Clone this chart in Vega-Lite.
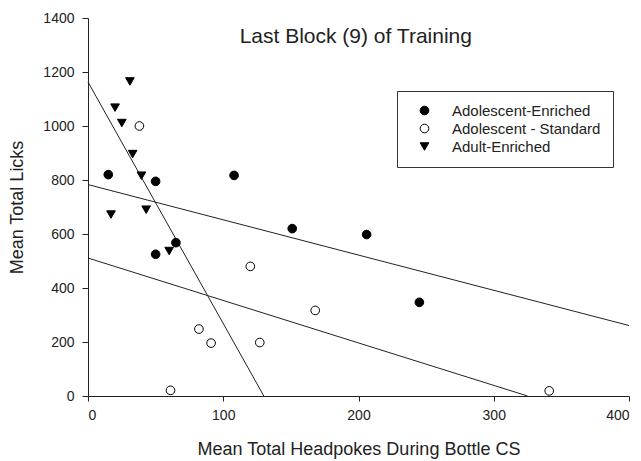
{
  "$schema": "https://vega.github.io/schema/vega-lite/v6.json",
  "width": 541,
  "height": 378,
  "autosize": {"type": "none"},
  "padding": {"left": 88, "top": 18, "right": 12, "bottom": 65},
  "background": "white",
  "config": {
    "view": {"stroke": null},
    "font": "Liberation Sans",
    "axis": {
      "grid": false,
      "domainColor": "#222",
      "tickColor": "#222",
      "labelFont": "Liberation Sans",
      "labelFontSize": 14,
      "labelColor": "#222",
      "titleFont": "Liberation Sans",
      "titleFontSize": 18,
      "titleFontWeight": "normal",
      "titleColor": "#222"
    },
    "legend": {
      "labelFont": "Liberation Sans",
      "labelFontSize": 15,
      "labelColor": "#222"
    }
  },
  "datasets": {
    "pts": [
      {"group": "Adolescent-Enriched", "x": 15, "y": 820},
      {"group": "Adolescent-Enriched", "x": 50, "y": 795},
      {"group": "Adolescent-Enriched", "x": 108, "y": 817},
      {"group": "Adolescent-Enriched", "x": 50, "y": 525},
      {"group": "Adolescent-Enriched", "x": 65, "y": 568},
      {"group": "Adolescent-Enriched", "x": 151, "y": 620},
      {"group": "Adolescent-Enriched", "x": 206, "y": 598},
      {"group": "Adolescent-Enriched", "x": 245, "y": 347},
      {"group": "Adolescent - Standard", "x": 38, "y": 1000},
      {"group": "Adolescent - Standard", "x": 120, "y": 480},
      {"group": "Adolescent - Standard", "x": 168, "y": 317},
      {"group": "Adolescent - Standard", "x": 82, "y": 248},
      {"group": "Adolescent - Standard", "x": 91, "y": 196},
      {"group": "Adolescent - Standard", "x": 127, "y": 198},
      {"group": "Adolescent - Standard", "x": 61, "y": 21},
      {"group": "Adolescent - Standard", "x": 341, "y": 19},
      {"group": "Adult-Enriched", "x": 31, "y": 1165},
      {"group": "Adult-Enriched", "x": 20, "y": 1068},
      {"group": "Adult-Enriched", "x": 25, "y": 1011},
      {"group": "Adult-Enriched", "x": 33, "y": 896},
      {"group": "Adult-Enriched", "x": 39.5, "y": 816},
      {"group": "Adult-Enriched", "x": 17, "y": 672},
      {"group": "Adult-Enriched", "x": 43, "y": 690},
      {"group": "Adult-Enriched", "x": 60, "y": 537}
    ],
    "fits": [
      {"line": "Adult-Enriched", "x": 0, "y": 1163},
      {"line": "Adult-Enriched", "x": 130, "y": 0},
      {"line": "Adolescent-Enriched", "x": 0, "y": 783},
      {"line": "Adolescent-Enriched", "x": 400, "y": 261},
      {"line": "Adolescent - Standard", "x": 0, "y": 511},
      {"line": "Adolescent - Standard", "x": 325, "y": 0}
    ],
    "ttl": [{"label": "Last Block (9) of Training", "x": 198, "y": 1328}]
  },
  "layer": [
    {
      "data": {"name": "fits"},
      "mark": {"type": "line", "color": "#222", "strokeWidth": 1},
      "encoding": {
        "x": {"field": "x", "type": "quantitative", "scale": {"domain": [0, 400], "nice": false},
          "axis": {"values": [0, 100, 200, 300, 400], "format": "d", "title": "Mean Total Headpokes During Bottle CS", "tickSize": 5, "titlePadding": 18, "labelPadding": 7}},
        "y": {"field": "y", "type": "quantitative", "scale": {"domain": [0, 1400], "nice": false},
          "axis": {"values": [0, 200, 400, 600, 800, 1000, 1200, 1400], "format": "d", "title": "Mean Total Licks", "tickSize": 6, "titlePadding": 16, "labelPadding": 8}},
        "detail": {"field": "line"}
      }
    },
    {
      "data": {"name": "pts"},
      "mark": {"type": "point", "filled": false, "stroke": "black", "strokeWidth": 1, "opacity": 1, "size": 75},
      "encoding": {
        "x": {"field": "x", "type": "quantitative"},
        "y": {"field": "y", "type": "quantitative"},
        "shape": {"field": "group", "type": "nominal",
          "scale": {"domain": ["Adolescent-Enriched", "Adolescent - Standard", "Adult-Enriched"], "range": ["circle", "circle", "triangle-down"]},
          "legend": {"title": null, "orient": "none", "legendX": 309, "legendY": 73, "strokeColor": "#333", "padding": 12, "symbolOffset": 8, "labelOffset": 20, "rowPadding": 2, "symbolSize": 75, "symbolStrokeColor": "black", "symbolStrokeWidth": 1, "symbolOpacity": 1,
            "encode": {"symbols": {"update": {"stroke": {"value": "black"}, "strokeWidth": {"value": 1}}}}}},
        "fill": {"field": "group", "type": "nominal",
          "scale": {"domain": ["Adolescent-Enriched", "Adolescent - Standard", "Adult-Enriched"], "range": ["black", "white", "black"]},
          "legend": {"title": null, "orient": "none", "legendX": 309, "legendY": 73, "strokeColor": "#333", "padding": 12, "symbolOffset": 8, "labelOffset": 20, "rowPadding": 2, "symbolSize": 75, "symbolStrokeColor": "black", "symbolStrokeWidth": 1, "symbolOpacity": 1,
            "encode": {"symbols": {"update": {"stroke": {"value": "black"}, "strokeWidth": {"value": 1}}}}}}
      }
    },
    {
      "data": {"name": "ttl"},
      "mark": {"type": "text", "font": "Liberation Sans", "fontSize": 21, "color": "#222", "align": "center", "baseline": "middle"},
      "encoding": {
        "x": {"field": "x", "type": "quantitative"},
        "y": {"field": "y", "type": "quantitative"},
        "text": {"field": "label"}
      }
    }
  ]
}
